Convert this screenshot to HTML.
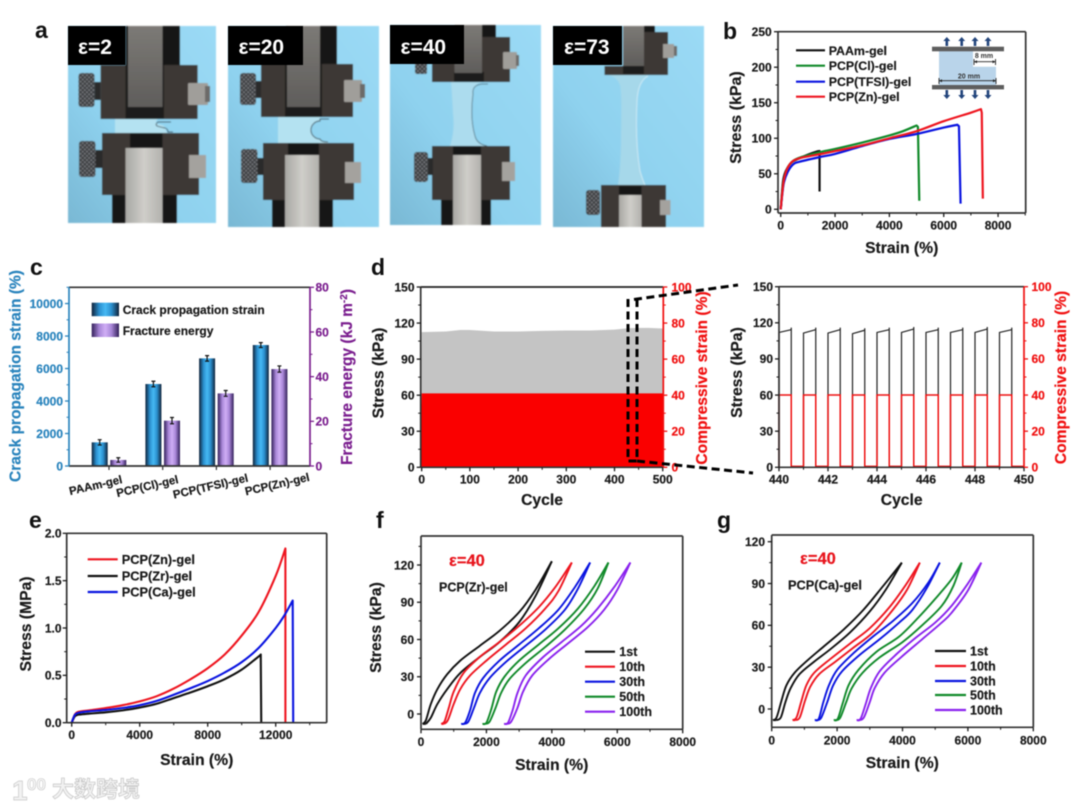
<!DOCTYPE html>
<html lang="en">
<head>
<meta charset="utf-8">
<title>Gel mechanical properties figure</title>
<style>
html,body{margin:0;padding:0;background:#fff;}
#figure{display:block;width:1080px;height:809px;filter:blur(0.5px);font-family:"Liberation Sans","Noto Sans CJK SC",sans-serif;}
text{font-family:"Liberation Sans","Noto Sans CJK SC",sans-serif;font-weight:bold;}
</style>
</head>
<body>
<svg id="figure" xmlns="http://www.w3.org/2000/svg" width="1080" height="809" viewBox="0 0 1080 809">
<defs>
  <linearGradient id="skyA" x1="1" y1="0" x2="0" y2="1"><stop offset="0" stop-color="#9bdaf5"/><stop offset="0.6" stop-color="#8fd2ef"/><stop offset="1" stop-color="#79b8d4"/></linearGradient>
  <linearGradient id="metalDark" x1="0" y1="0" x2="0" y2="1"><stop offset="0" stop-color="#7c7a76"/><stop offset="1" stop-color="#5f5d5b"/></linearGradient>
  <linearGradient id="metalLight" x1="0" y1="0" x2="1" y2="0"><stop offset="0" stop-color="#a8a7a3"/><stop offset="0.5" stop-color="#cfcec9"/><stop offset="1" stop-color="#b2b1ad"/></linearGradient>
  <linearGradient id="blueBar" x1="0" y1="0" x2="1" y2="0"><stop offset="0" stop-color="#10233a"/><stop offset="0.28" stop-color="#2b90cf"/><stop offset="0.5" stop-color="#46b9f4"/><stop offset="0.72" stop-color="#2b90cf"/><stop offset="1" stop-color="#10233a"/></linearGradient>
  <linearGradient id="purpleBar" x1="0" y1="0" x2="1" y2="0"><stop offset="0" stop-color="#33205a"/><stop offset="0.28" stop-color="#a987d8"/><stop offset="0.5" stop-color="#cfaef5"/><stop offset="0.72" stop-color="#a987d8"/><stop offset="1" stop-color="#33205a"/></linearGradient>
  <pattern id="knurl" width="3" height="3" patternUnits="userSpaceOnUse" patternTransform="rotate(45)"><rect width="3" height="3" fill="#3b3c3f"/><rect width="1.4" height="1.4" fill="#93959a"/></pattern>
  <filter id="soft"><feGaussianBlur stdDeviation="0.55"/></filter>
</defs>
<rect width="1080" height="809" fill="#ffffff"/>

<g id="panel-a">
  <g filter="url(#soft)">
    <rect x="68" y="26" width="148" height="197" fill="url(#skyA)"/>
    <rect x="125.5" y="26" width="54.5" height="40" fill="#141313"/>
    <rect x="100.6" y="65" width="97" height="54" fill="#3d3734"/>
    <rect x="125.5" y="65" width="38.5" height="54" fill="#1c1a1a"/>
    <rect x="128" y="26" width="34.5" height="81" fill="url(#metalDark)"/>
    <rect x="94.6" y="82" width="6" height="18" fill="#2a2a2a"/>
    <rect x="78.5" y="73" width="16" height="34" rx="3" fill="url(#knurl)"/>
    <rect x="188" y="83" width="20" height="22" rx="1" fill="#a09e9a"/>
    <rect x="205" y="86" width="5" height="16" fill="#6c6a68"/>
    <path d="M115 119H158q-4 3 0 5q6 1 7 3l2 6H115Z" fill="#b4e2f1"/>
    <path d="M171 122H158q-3 2-1 4q3 1 8 2q3 1 3 4h5" fill="none" stroke="#3a4a52" stroke-width="0.9"/>
    <rect x="102" y="133" width="97" height="62" fill="#3d3734"/>
    <rect x="112" y="195" width="65" height="28" fill="#131212"/>
    <rect x="125.5" y="148" width="37" height="75" fill="url(#metalLight)"/>
    <rect x="130" y="133" width="32.5" height="15" fill="#191717"/>
    <rect x="95.5" y="150" width="7" height="18" fill="#2a2a2a"/>
    <rect x="79" y="141" width="16.5" height="36" rx="3" fill="url(#knurl)"/>
    <rect x="189" y="155" width="17" height="23" fill="#a4a29e"/>
  </g>
  <g filter="url(#soft)">
    <rect x="228" y="26" width="151" height="201" fill="url(#skyA)"/>
    <rect x="286" y="26" width="51" height="39" fill="#141313"/>
    <rect x="261" y="64" width="92" height="53" fill="#3d3734"/>
    <rect x="285" y="64" width="37" height="53" fill="#1c1a1a"/>
    <rect x="287" y="26" width="33" height="81" fill="url(#metalDark)"/>
    <rect x="256" y="81" width="5" height="17" fill="#2a2a2a"/>
    <rect x="240" y="73" width="16" height="32" rx="3" fill="url(#knurl)"/>
    <rect x="344" y="80" width="18" height="22" rx="1" fill="#a09e9a"/>
    <rect x="360" y="84" width="5" height="14" fill="#6c6a68"/>
    <path d="M278 117H320V121a9 9 0 0 0 0 18q1 3 8 3v1H278Z" fill="#b4e2f1"/>
    <path d="M329 119H320v2a9 9 0 0 0 0 18q1 3 8 3" fill="none" stroke="#3a4a52" stroke-width="0.9"/>
    <rect x="263" y="143" width="91" height="57" fill="#3d3734"/>
    <rect x="272" y="200" width="61" height="27" fill="#131212"/>
    <rect x="285" y="155" width="34" height="72" fill="url(#metalLight)"/>
    <rect x="288" y="143" width="31" height="12" fill="#191717"/>
    <rect x="257.5" y="158" width="6" height="17" fill="#2a2a2a"/>
    <rect x="241" y="149" width="16.5" height="34" rx="3" fill="url(#knurl)"/>
    <rect x="345" y="162" width="16" height="21" fill="#a4a29e"/>
  </g>
  <g filter="url(#soft)">
    <rect x="390" y="25" width="151" height="200" fill="url(#skyA)"/>
    <rect x="464" y="25" width="32" height="14" fill="#141313"/>
    <rect x="432" y="37" width="78" height="45" fill="#3d3734"/>
    <rect x="454" y="72" width="30" height="10" fill="#1c1a1a"/>
    <rect x="454.5" y="25" width="27.5" height="48" fill="url(#metalDark)"/>
    <rect x="415" y="62" width="12" height="12" rx="2" fill="url(#knurl)"/>
    <rect x="503" y="52" width="14" height="17" rx="1" fill="#a09e9a"/>
    <rect x="516" y="55" width="3" height="11" fill="#6c6a68"/>
    <path d="M451 82H482q-10 3-9 12q-3 25 2 42q2 8 12 10H450q5-15 3-32q-1-20-2-32Z" fill="#acdcee"/>
    <path d="M488 84h-6q-10 1-9 10q-3 25 2 42q2 8 12 10" fill="none" stroke="#47606c" stroke-width="0.7"/>
    <rect x="432" y="146" width="78" height="54" fill="#3d3734"/>
    <rect x="441" y="200" width="50" height="25" fill="#131212"/>
    <rect x="453" y="155" width="28" height="70" fill="url(#metalLight)"/>
    <rect x="453" y="146" width="28" height="9" fill="#191717"/>
    <rect x="428" y="158" width="5" height="17" fill="#2a2a2a"/>
    <rect x="414" y="152" width="14" height="30" rx="3" fill="url(#knurl)"/>
    <rect x="502" y="162" width="13" height="19" fill="#a4a29e"/>
  </g>
  <g filter="url(#soft)">
    <rect x="553" y="26" width="151" height="201" fill="url(#skyA)"/>
    <rect x="644" y="26" width="11" height="12" fill="#141313"/>
    <rect x="604.5" y="66" width="63.5" height="9" fill="#3d3734"/>
    <rect x="644" y="32" width="24" height="43" fill="#3d3734"/>
    <rect x="623" y="26" width="21" height="40" fill="url(#metalDark)"/>
    <rect x="623" y="66" width="21" height="8" fill="#1c1a1a"/>
    <rect x="663" y="44" width="11" height="14" fill="#a09e9a"/>
    <rect x="674" y="46" width="3" height="10" fill="#6c6a68"/>
    <path d="M608 75H648q-10 5-11 25q-2 40 3 70q3 10 5 15H618q3-20 3-50q1-40-1-50q-3-8-12-10Z" fill="#a6d8ea"/>
    <path d="M648 76q-10 5-11 25q-2 40 3 70q3 10 5 14" fill="none" stroke="#dff2f8" stroke-width="0.7"/>
    <rect x="601" y="185" width="65" height="42" fill="#3d3734"/>
    <rect x="619" y="195" width="22.5" height="32" fill="url(#metalLight)"/>
    <rect x="619" y="186" width="22.5" height="9" fill="#191717"/>
    <rect x="586" y="190" width="14" height="25" rx="3" fill="url(#knurl)"/>
    <rect x="660" y="200" width="10.5" height="15" fill="#a4a29e"/>
  </g>
  <g>
    <rect x="68" y="26" width="57.5" height="39" fill="#000"/>
    <text x="78" y="54" font-size="21" fill="#fff">ε=2</text>
    <rect x="228" y="26" width="75" height="39" fill="#000"/>
    <text x="238.5" y="54" font-size="21" fill="#fff">ε=20</text>
    <rect x="390" y="25" width="74" height="39" fill="#000"/>
    <text x="400.5" y="54" font-size="21" fill="#fff">ε=40</text>
    <rect x="553" y="26" width="69" height="39" fill="#000"/>
    <text x="564" y="54" font-size="21" fill="#fff">ε=73</text>
  </g>
</g>

<g fill="#111">
  <text x="35" y="38" font-size="23">a</text>
  <text x="723" y="39" font-size="23">b</text>
  <text x="30" y="275" font-size="23">c</text>
  <text x="371" y="275" font-size="23">d</text>
  <text x="29" y="528" font-size="23">e</text>
  <text x="376" y="528" font-size="23">f</text>
  <text x="717" y="528" font-size="23">g</text>
</g>

<g id="charts"></g>

<g>
  <path d="M939 51H973V66.7H996V85H939Z" fill="#b9d4ea"/>
  <rect x="932" y="46.7" width="72" height="4.6" fill="#5e5e5e"/>
  <rect x="932" y="85" width="72" height="4.4" fill="#5e5e5e"/>
  <g fill="#23457c">
    <path d="M945.5 46v-5h-2.2l3.5-4 3.5 4h-2.2v5z"/><path d="M960.4 46v-5h-2.2l3.5-4 3.5 4h-2.2v5z"/><path d="M973.7 46v-5h-2.2l3.5-4 3.5 4h-2.2v5z"/><path d="M986.7 46v-5h-2.2l3.5-4 3.5 4h-2.2v5z"/>
  </g>
  <g fill="#23457c">
    <path d="M945.5 90v5h-2.2l3.5 4 3.5-4h-2.2v-5z"/><path d="M960.4 90v5h-2.2l3.5 4 3.5-4h-2.2v-5z"/><path d="M973.7 90v5h-2.2l3.5 4 3.5-4h-2.2v-5z"/><path d="M986.7 90v5h-2.2l3.5 4 3.5-4h-2.2v-5z"/>
  </g>
  <g stroke="#222" stroke-width="0.9" fill="#222">
    <path d="M974 59v6M995.5 59v6M974 61.7H995.5" fill="none"/>
    <path d="M974 61.7l3-1.5v3zM995.5 61.7l-3-1.5v3z" stroke="none"/>
  </g>
  <text x="984" y="58" font-size="7" text-anchor="middle" fill="#333">8 mm</text>
  <g stroke="#222" stroke-width="0.9" fill="#222">
    <path d="M939 78v6M996 78v6M939 80.7H996" fill="none"/>
    <path d="M939 80.7l3-1.5v3zM996 80.7l-3-1.5v3z" stroke="none"/>
  </g>
  <text x="969" y="78.5" font-size="7" text-anchor="middle" fill="#333">20 mm</text>
</g>

<g fill="none" stroke="#000" stroke-width="3" stroke-dasharray="8 4.5">
  <path d="M628 299V461H637"/>
  <path d="M637 299V461"/>
  <path d="M634 299.5L738 285"/>
  <path d="M637 461L753 473"/>
</g>

<g>
  <text x="12" y="800" font-size="28" fill="#f2f2f2" stroke="#c9c9c9" stroke-width="0.7">1</text>
  <text x="27" y="790" font-size="17" fill="#f7f7f7" stroke="#c9c9c9" stroke-width="0.6">00</text>
  <text x="52" y="797" font-size="22" fill="#f2f2f2" stroke="#c6c6c6" stroke-width="0.7">大数跨境</text>
</g>
</svg>

<script>
// ---------- Panel b data ----------
const bStrainTicks = [0, 2000, 4000, 6000, 8000];
const bStressTicks = [0, 50, 100, 150, 200, 250];
const bPAAm = [[0,0],[50,25],[100,43],[200,55],[400,66],[700,72],[1000,77],[1300,81],[1430,82]];
const bPAAmDrop = [[1430,25]];
const bCl = [[0,0],[60,25],[120,42],[250,58],[450,68],[800,74],[1500,81],[2000,85],[3000,94],[4000,104],[4500,110],[5000,118]];
const bClDrop = [[5050,116],[5100,12]];
const bTFSI = [[0,0],[60,22],[120,38],[250,52],[450,63],[700,67],[1500,74],[2000,78],[3000,89],[4000,99],[5000,106],[6000,115],[6500,119]];
const bTFSIDrop = [[6560,117],[6620,8]];
const bZn = [[0,0],[60,24],[120,42],[250,58],[450,68],[800,73],[1500,78],[2000,82],[3000,90],[4000,100],[5000,110],[6000,124],[7000,136],[7370,141]];
const bZnDrop = [[7400,136],[7440,15]];

// ---------- Panel c data ----------
const cCategories = ['PAAm-gel', 'PCP(Cl)-gel', 'PCP(TFSI)-gel', 'PCP(Zn)-gel'];
const cCrackStrain = [1456, 5046, 6625, 7446];
const cCrackError = [165, 170, 170, 150];
const cFractureEnergy = [2.7, 20.3, 32.5, 43.4];
const cFractureError = [1.0, 1.4, 1.3, 1.4];
const cStrainTicks = [0, 2000, 4000, 6000, 8000, 10000];
const cEnergyTicks = [0, 20, 40, 60, 80];

// ---------- Panel d data ----------
const dCycles = [0, 50, 80, 100, 150, 200, 250, 300, 350, 400, 430, 470, 500];
const dStressPeak = [112.5, 113, 114.2, 114.2, 113, 113, 113.5, 113.8, 113.8, 114.5, 115.8, 116, 115.5];
const dStrainPlateau = [41, 41, 41, 41, 41, 41, 41, 41, 41, 41, 41, 41, 41];
const dCycleTicks = [0, 100, 200, 300, 400, 500];
const dStressTicks = [0, 30, 60, 90, 120, 150];
const dStrainTicks = [0, 20, 40, 60, 80, 100];

// ---------- Panel d zoom data ----------
const zCycleStarts = [440, 441, 442, 443, 444, 445, 446, 447, 448, 449];
const zStressStart = [112, 111.5, 111.5, 111, 112, 112, 112, 112, 112, 112];
const zStressEnd = [116, 116, 116, 115.5, 116, 116.5, 116, 116, 116.5, 116];
const zStrainHigh = [40, 40, 40, 40, 40, 40, 40, 40, 40, 40];
const zCycleTicks = [440, 442, 444, 446, 448, 450];

// ---------- Panel e data ----------
const eStrainTicks = [0, 4000, 8000, 12000];
const eStressTicks = [0, 0.5, 1, 1.5, 2];
const eZn = [[0,0],[100,.05],[200,.09],[400,.115],[1000,.13],[2000,.155],[3000,.185],[4000,.225],[5000,.28],[6000,.36],[7000,.46],[8000,.575],[9000,.72],[10000,.92],[11000,1.17],[12000,1.55],[12570,1.84]];
const eZnDrop = [[12570,0]];
const eZr = [[0,0],[100,.04],[200,.07],[400,.085],[1000,.095],[2000,.11],[3000,.13],[4000,.16],[5000,.2],[6000,.26],[7000,.32],[8000,.385],[9000,.46],[10000,.56],[11000,.70],[11120,.72]];
const eZrDrop = [[11150,0]];
const eCa = [[0,0],[100,.05],[200,.085],[400,.105],[1000,.12],[2000,.135],[3000,.155],[4000,.185],[5000,.23],[6000,.295],[7000,.365],[8000,.44],[9000,.53],[10000,.64],[11000,.79],[12000,1.0],[12500,1.13],[13000,1.29]];
const eCaDrop = [[13030,0]];

// ---------- Panels f and g shared ticks ----------
const loopStrainTicks = [0, 2000, 4000, 6000, 8000];
const loopStressTicks = [0, 30, 60, 90, 120];
const loopLegendLabels = ['1st', '10th', '30th', '50th', '100th'];

// ---------- Panel f data ----------
const f1stUpper = [[50,-8],[150,-5],[300,8],[500,20],[800,32],[1200,43],[1800,55],[2400,67],[3000,82],[3500,100],[4000,123]];
const f1stLower = [[150,-8],[300,-3],[500,8],[800,20],[1200,33],[1800,46],[2400,58],[3000,74],[3500,95],[4000,123]];
const f10thUpper = [[620,-8],[720,-6],[850,5],[1000,18],[1300,33],[1800,46],[2400,58],[3000,71],[3600,86],[4100,102],[4610,122]];
const f10thLower = [[700,-8],[820,-5],[1000,8],[1200,20],[1500,31],[2000,43],[2600,56],[3200,69],[3800,85],[4200,99],[4610,122]];
const f30thUpper = [[1230,-8],[1350,-7],[1500,3],[1650,17],[1900,29],[2400,43],[3000,56],[3600,69],[4200,84],[4700,102],[5170,122]];
const f30thLower = [[1320,-8],[1450,-6],[1620,5],[1800,17],[2100,29],[2600,42],[3200,55],[3800,68],[4400,84],[4800,101],[5170,122]];
const f50thUpper = [[1880,-8],[2000,-7],[2150,4],[2300,18],[2550,30],[3000,43],[3600,56],[4200,69],[4800,85],[5300,103],[5730,122]];
const f50thLower = [[1970,-8],[2100,-6],[2280,5],[2450,17],[2700,28],[3200,41],[3800,54],[4400,68],[5000,85],[5400,101],[5730,122]];
const f100thUpper = [[2540,-8],[2660,-7],[2800,3],[2950,17],[3200,31],[3700,45],[4300,58],[4900,71],[5400,85],[5900,102],[6400,122]];
const f100thLower = [[2640,-8],[2760,-6],[2950,5],[3120,18],[3400,31],[3900,44],[4500,57],[5100,70],[5600,84],[6000,100],[6400,122]];

// ---------- Panel g data ----------
const g1stUpper = [[40,-8],[150,-6],[300,6],[450,17],[700,26],[1100,35],[1600,45],[2200,57],[2800,71],[3400,88],[3980,105]];
const g1stLower = [[140,-8],[280,-6],[420,5],[580,15],[850,25],[1300,34],[1800,43],[2400,55],[3000,70],[3500,86],[3980,105]];
const g10thUpper = [[640,-8],[760,-6],[900,5],[1060,17],[1300,26],[1800,36],[2400,47],[3000,58],[3600,73],[4100,89],[4530,105]];
const g10thLower = [[730,-8],[860,-6],[1020,6],[1180,16],[1450,25],[1950,34],[2500,44],[3100,55],[3700,71],[4150,86],[4530,105]];
const g30thUpper = [[1320,-8],[1440,-7],[1580,5],[1750,17],[2000,28],[2500,40],[3100,52],[3700,63],[4300,76],[4800,91],[5140,105]];
const g30thLower = [[1400,-8],[1520,-6],[1700,5],[1880,17],[2150,27],[2700,39],[3300,50],[3900,62],[4300,71],[4750,87],[5140,105]];
const g50thUpper = [[1900,-8],[2020,-7],[2170,4],[2350,17],[2650,28],[3200,41],[3900,52],[4500,66],[5000,79],[5500,93],[5810,105]];
const g50thLower = [[1980,-8],[2100,-6],[2280,5],[2450,15],[2780,26],[3300,37],[4000,48],[4600,60],[5200,74],[5550,88],[5810,105]];
const g100thUpper = [[2600,-8],[2720,-7],[2880,4],[3030,15],[3300,27],[3800,39],[4400,51],[5000,62],[5500,74],[6000,90],[6410,105]];
const g100thLower = [[2680,-8],[2820,-6],[3000,5],[3150,15],[3450,26],[3950,37],[4600,50],[5200,62],[5500,69],[6000,85],[6410,105]];

// ---------- Helpers ----------
const NS = 'http://www.w3.org/2000/svg';
const root = document.getElementById('charts');
const AXIS = '#333333';
const RED = '#f01010';
const BLUE = '#2a84bd';
const PURPLE = '#7b1f8f';

function mk(parent, tag, name, attrs) {
  const el = document.createElementNS(NS, tag);
  
  
  for (const k in attrs) el.setAttribute(k, attrs[k]);
  parent.appendChild(el);
  return el;
}
function txt(parent, name, str, x, y, size, opts) {
  const o = opts || {};
  const color = o.fill || '#1a1a1a';
  const a = {x: x, y: y, 'font-size': size, fill: color, stroke: color, 'stroke-width': 0.2, 'text-anchor': o.anchor || 'start'};
  if (o.rotate !== undefined) a.transform = 'rotate(' + o.rotate + ' ' + x + ' ' + y + ')';
  const t = mk(parent, 'text', name, a);
  t.textContent = str;
  return t;
}
function linear(d0, d1, r0, r1) {
  return function (v) { return r0 + (v - d0) / (d1 - d0) * (r1 - r0); };
}
function smoothPath(points, sx, sy) {
  const p = points.map(function (q) { return [sx(q[0]), sy(q[1])]; });
  let d = 'M' + p[0][0].toFixed(2) + ' ' + p[0][1].toFixed(2);
  for (let i = 0; i < p.length - 1; i++) {
    const a = p[Math.max(i - 1, 0)], b = p[i], c = p[i + 1], e = p[Math.min(i + 2, p.length - 1)];
    const c1x = b[0] + (c[0] - a[0]) / 6, c1y = b[1] + (c[1] - a[1]) / 6;
    const c2x = c[0] - (e[0] - b[0]) / 6, c2y = c[1] - (e[1] - b[1]) / 6;
    d += 'C' + c1x.toFixed(2) + ' ' + c1y.toFixed(2) + ' ' + c2x.toFixed(2) + ' ' + c2y.toFixed(2) + ' ' + c[0].toFixed(2) + ' ' + c[1].toFixed(2);
  }
  return d;
}
function dropPath(points, sx, sy) {
  return points.map(function (q) { return 'L' + sx(q[0]).toFixed(2) + ' ' + sy(q[1]).toFixed(2); }).join('');
}
function frameLine(g, name, x1, y1, x2, y2, color) {
  mk(g, 'line', name, {x1: x1, y1: y1, x2: x2, y2: y2, stroke: color, 'stroke-width': 1.7});
}
function xTicks(g, prefix, sx, yAxis, majors, labels, minors, labelY, color) {
  majors.forEach(function (v, i) {
    mk(g, 'line', prefix + '-x-tick', {x1: sx(v), x2: sx(v), y1: yAxis, y2: yAxis + 4, stroke: color, 'stroke-width': 1.3});
    txt(g, prefix + '-x-tick-label', labels[i], sx(v), labelY, 12, {anchor: 'middle', fill: color});
  });
  minors.forEach(function (v) {
    mk(g, 'line', prefix + '-x-minor-tick', {x1: sx(v), x2: sx(v), y1: yAxis, y2: yAxis + 2.5, stroke: color, 'stroke-width': 1});
  });
}
function yTicks(g, prefix, sy, xAxis, majors, labels, minors, side, labelX, color) {
  majors.forEach(function (v, i) {
    mk(g, 'line', prefix + '-y-tick', {x1: xAxis, x2: xAxis + side * 4, y1: sy(v), y2: sy(v), stroke: color, 'stroke-width': 1.3});
    txt(g, prefix + '-y-tick-label', labels[i], labelX, sy(v) + 4.3, 12, {anchor: side < 0 ? 'end' : 'start', fill: color});
  });
  minors.forEach(function (v) {
    mk(g, 'line', prefix + '-y-minor-tick', {x1: xAxis, x2: xAxis + side * 2.5, y1: sy(v), y2: sy(v), stroke: color, 'stroke-width': 1});
  });
}
function midpoints(vals) {
  const out = [];
  for (let i = 0; i < vals.length - 1; i++) out.push((vals[i] + vals[i + 1]) / 2);
  return out;
}
function legendRow(g, prefix, label, x1, x2, y, textX, size, color) {
  mk(g, 'line', prefix + '-legend-line', {x1: x1, x2: x2, y1: y, y2: y, stroke: color, 'stroke-width': 2.2});
  txt(g, prefix + '-legend-label', label, textX, y + size * 0.36, size);
}
const asText = function (v) { return String(v); };

// ---------- Panel b ----------
(function () {
  const g = mk(root, 'g', 'stress-strain-chart-b', {});
  const sx = linear(-100, 9017, 778, 1025.7);
  const sy = linear(0, 250, 209.3, 31.7);
  const series = [
    ['paam-curve', bPAAm, bPAAmDrop, '#111111'],
    ['pcp-cl-curve', bCl, bClDrop, '#118a2a'],
    ['pcp-tfsi-curve', bTFSI, bTFSIDrop, '#0a14e0'],
    ['pcp-zn-curve', bZn, bZnDrop, '#ee1620']
  ];
  series.forEach(function (s) {
    mk(g, 'path', s[0], {d: smoothPath(s[1], sx, sy) + dropPath(s[2], sx, sy), fill: 'none', stroke: s[3], 'stroke-width': 2.2, 'stroke-linejoin': 'round'});
  });
  frameLine(g, 'frame-left', 778, 31.7, 778, 213, AXIS);
  frameLine(g, 'frame-bottom', 778, 213, 1025.7, 213, AXIS);
  frameLine(g, 'frame-top', 778, 31.7, 1025.7, 31.7, AXIS);
  frameLine(g, 'frame-right', 1025.7, 31.7, 1025.7, 213, AXIS);
  xTicks(g, 'b', sx, 213, bStrainTicks, bStrainTicks.map(asText), [1000, 3000, 5000, 7000, 9000], 229.5, '#1a1a1a');
  yTicks(g, 'b', sy, 778, bStressTicks, bStressTicks.map(asText), midpoints(bStressTicks), -1, 771.7, '#1a1a1a');
  txt(g, 'x-axis-title', 'Strain (%)', 901.7, 253, 15.7, {anchor: 'middle'});
  txt(g, 'y-axis-title', 'Stress (kPa)', 741, 117.5, 16, {anchor: 'middle', rotate: -90});
  const names = ['PAAm-gel', 'PCP(Cl)-gel', 'PCP(TFSI)-gel', 'PCP(Zn)-gel'];
  const rows = [50.3, 65.7, 81.7, 96.7];
  names.forEach(function (n, i) {
    legendRow(g, 'b', n, 796, 825, rows[i], 828.7, 12.4, series[i][3]);
  });
})();

// ---------- Panel c ----------
(function () {
  const g = mk(root, 'g', 'bar-chart-c', {});
  const L = 69, R = 310, T = 287.3, B = 466;
  const band = 53.7;
  const sxc = function (i) { return 109 + i * band; };
  const syL = linear(0, 11000, B, T);
  const syR = linear(0, 80, B, T);
  const barW = 16;
  function bar(name, cx, base, top, fill) {
    mk(g, 'rect', name, {x: cx - barW / 2, y: top, width: barW, height: base - top, fill: fill});
  }
  function err(name, cx, hi, lo) {
    mk(g, 'path', name, {d: 'M' + cx + ' ' + hi + 'V' + lo + 'M' + (cx - 2) + ' ' + hi + 'H' + (cx + 2) + 'M' + (cx - 2) + ' ' + lo + 'H' + (cx + 2), stroke: '#111', 'stroke-width': 1.2, fill: 'none'});
  }
  cCategories.forEach(function (c, i) {
    const bx = sxc(i) - 9.3, px = sxc(i) + 9.3;
    bar('crack-strain-bar', bx, B, syL(cCrackStrain[i]), 'url(#blueBar)');
    err('crack-strain-error', bx, syL(cCrackStrain[i] + cCrackError[i]), syL(cCrackStrain[i] - cCrackError[i]));
    bar('fracture-energy-bar', px, B, syR(cFractureEnergy[i]), 'url(#purpleBar)');
    err('fracture-energy-error', px, syR(cFractureEnergy[i] + cFractureError[i]), syR(cFractureEnergy[i] - cFractureError[i]));
    mk(g, 'line', 'c-x-tick', {x1: sxc(i), x2: sxc(i), y1: B, y2: B + 4, stroke: AXIS, 'stroke-width': 1.2});
  });
  const labelShift = [-12.5, -14.5, -5, 8];
  const labelDrop = [23, 24, 24, 22];
  cCategories.forEach(function (c, i) {
    txt(g, 'category-label', c, sxc(i) + labelShift[i], B + labelDrop[i], 11.5, {anchor: 'middle', rotate: -13});
  });
  frameLine(g, 'frame-top', L, T, R, T, AXIS);
  frameLine(g, 'frame-bottom', L, B, R, B, AXIS);
  frameLine(g, 'left-axis', L, T, L, B, BLUE);
  frameLine(g, 'right-axis', R, T, R, B, PURPLE);
  yTicks(g, 'c-left', syL, L, cStrainTicks, cStrainTicks.map(asText), [1000, 3000, 5000, 7000, 9000, 11000], -1, 63, BLUE);
  yTicks(g, 'c-right', syR, R, cEnergyTicks, cEnergyTicks.map(asText), midpoints(cEnergyTicks), 1, 315.5, PURPLE);
  txt(g, 'left-axis-title', 'Crack propagation strain (%)', 20.5, 376, 15.5, {anchor: 'middle', fill: BLUE, rotate: -90});
  const rt = txt(g, 'right-axis-title', 'Fracture energy (kJ m', 352, 377, 15.5, {anchor: 'middle', fill: PURPLE, rotate: -90});
  const sup = mk(rt, 'tspan', 'right-axis-title-exponent', {dy: -5, 'font-size': 10});
  sup.textContent = '-2';
  const close = mk(rt, 'tspan', 'right-axis-title-close', {dy: 5});
  close.textContent = ')';
  mk(g, 'rect', 'legend-swatch-crack', {x: 91.7, y: 302.7, width: 27.3, height: 13.5, fill: 'url(#blueBar)'});
  txt(g, 'legend-label-crack', 'Crack propagation strain', 122.7, 314.2, 12);
  mk(g, 'rect', 'legend-swatch-fracture', {x: 91.7, y: 323.5, width: 27.3, height: 13.5, fill: 'url(#purpleBar)'});
  txt(g, 'legend-label-fracture', 'Fracture energy', 122.7, 335, 12);
})();

// ---------- Panel d overview ----------
(function () {
  const g = mk(root, 'g', 'fatigue-chart-d', {});
  const L = 420.7, R = 663.3, T = 287, B = 467.3;
  const sx = linear(-2, 501.2, L, R);
  const sy = linear(0, 150, B, T);
  const sr = linear(0, 100, B, T);
  let gray = 'M' + L + ' ' + B;
  dCycles.forEach(function (c, i) { gray += 'L' + Math.min(sx(c), R) + ' ' + sy(dStressPeak[i]).toFixed(2); });
  gray += 'L' + R + ' ' + B + 'Z';
  mk(g, 'path', 'stress-envelope-area', {d: gray, fill: '#c4c4c4'});
  let red = 'M' + L + ' ' + B;
  dCycles.forEach(function (c, i) { red += 'L' + Math.min(sx(c), R) + ' ' + sr(dStrainPlateau[i]).toFixed(2); });
  red += 'L' + R + ' ' + B + 'Z';
  mk(g, 'path', 'strain-area', {d: red, fill: '#fa0000'});
  frameLine(g, 'frame-top', L, T, R, T, '#222');
  frameLine(g, 'frame-left', L, T, L, B, AXIS);
  frameLine(g, 'frame-bottom', L, B, R, B, AXIS);
  frameLine(g, 'right-axis', R, T, R, B, RED);
  xTicks(g, 'd', sx, B, dCycleTicks, dCycleTicks.map(asText), midpoints(dCycleTicks), 483.5, '#1a1a1a');
  yTicks(g, 'd-left', sy, L, dStressTicks, dStressTicks.map(asText), midpoints(dStressTicks), -1, 414.5, '#1a1a1a');
  yTicks(g, 'd-right', sr, R, dStrainTicks, dStrainTicks.map(asText), midpoints(dStrainTicks), 1, 671.5, RED);
  txt(g, 'x-axis-title', 'Cycle', 542, 505, 15.7, {anchor: 'middle'});
  txt(g, 'y-axis-title', 'Stress (kPa)', 383.5, 373, 15.7, {anchor: 'middle', rotate: -90});
  txt(g, 'right-axis-title', 'Compressive strain (%)', 707, 378, 15.6, {anchor: 'middle', fill: RED, rotate: -90});
})();

// ---------- Panel d zoom ----------
(function () {
  const g = mk(root, 'g', 'fatigue-zoom-chart-d', {});
  const L = 779, R = 1024, T = 286.7, B = 467.3;
  const sx = linear(440, 450, L, R);
  const sy = linear(0, 150, B, T);
  const sr = linear(0, 100, B, T);
  let black = '';
  let red = '';
  zCycleStarts.forEach(function (c, i) {
    const up = sx(c), down = sx(c + 0.5), next = sx(c + 1);
    black += 'M' + up + ' ' + B + 'V' + sy(zStressStart[i]) + 'L' + (down - 0.6) + ' ' + sy(zStressEnd[i] - 1.8) + 'H' + down + 'V' + sy(zStressEnd[i]) + 'V' + B;
    red += (i === 0 ? 'M' : 'L') + up + ' ' + B + 'V' + sr(zStrainHigh[i]) + 'H' + down + 'V' + sr(0.5) + 'H' + next;
  });
  mk(g, 'path', 'stress-cycles-line', {d: black, fill: 'none', stroke: '#222', 'stroke-width': 1.2});
  mk(g, 'path', 'strain-cycles-line', {d: red, fill: 'none', stroke: '#ee1111', 'stroke-width': 1.5});
  frameLine(g, 'frame-top', L, T, R, T, AXIS);
  frameLine(g, 'frame-left', L, T, L, B, AXIS);
  frameLine(g, 'frame-bottom', L, B, R, B, AXIS);
  frameLine(g, 'right-axis', R, T, R, B, RED);
  xTicks(g, 'd-zoom', sx, B, zCycleTicks, zCycleTicks.map(asText), midpoints(zCycleTicks), 483.5, '#1a1a1a');
  yTicks(g, 'd-zoom-left', sy, L, dStressTicks, dStressTicks.map(asText), midpoints(dStressTicks), -1, 773, '#1a1a1a');
  yTicks(g, 'd-zoom-right', sr, R, dStrainTicks, dStrainTicks.map(asText), midpoints(dStrainTicks), 1, 1031.5, RED);
  txt(g, 'x-axis-title', 'Cycle', 901.7, 505, 15.7, {anchor: 'middle'});
  txt(g, 'y-axis-title', 'Stress (kPa)', 742, 372.5, 15.7, {anchor: 'middle', rotate: -90});
  txt(g, 'right-axis-title', 'Compressive strain (%)', 1066, 377.5, 15.6, {anchor: 'middle', fill: RED, rotate: -90});
})();

// ---------- Panel e ----------
(function () {
  const g = mk(root, 'g', 'stress-strain-chart-e', {});
  const L = 66.7, R = 326.7, T = 533.3, B = 722.7;
  const sx = linear(0, 12000, 71.7, 275.7);
  const sy = linear(0, 2, B, T);
  const series = [
    ['pcp-zr-curve', eZr, eZrDrop, '#111111'],
    ['pcp-zn-curve', eZn, eZnDrop, '#ee1620'],
    ['pcp-ca-curve', eCa, eCaDrop, '#0a14e0']
  ];
  series.forEach(function (s) {
    mk(g, 'path', s[0], {d: smoothPath(s[1], sx, sy) + dropPath(s[2], sx, sy), fill: 'none', stroke: s[3], 'stroke-width': 2.1, 'stroke-linejoin': 'round'});
  });
  frameLine(g, 'frame-left', L, T, L, B, AXIS);
  frameLine(g, 'frame-bottom', L, B, R, B, AXIS);
  frameLine(g, 'frame-top', L, T, R, T, AXIS);
  frameLine(g, 'frame-right', R, T, R, B, AXIS);
  xTicks(g, 'e', sx, B, eStrainTicks, eStrainTicks.map(asText), [2000, 6000, 10000, 14000], 739, '#1a1a1a');
  yTicks(g, 'e', sy, L, eStressTicks, eStressTicks.map(function (v) { return v.toFixed(1); }), midpoints(eStressTicks), -1, 61.5, '#1a1a1a');
  txt(g, 'x-axis-title', 'Strain (%)', 196.7, 765, 15.7, {anchor: 'middle'});
  txt(g, 'y-axis-title', 'Stress (MPa)', 31, 624, 15.7, {anchor: 'middle', rotate: -90});
  legendRow(g, 'e-zn', 'PCP(Zn)-gel', 87.7, 117.7, 559.3, 121.7, 12.8, '#ee1620');
  legendRow(g, 'e-zr', 'PCP(Zr)-gel', 87.7, 117.7, 576, 121.7, 12.8, '#111111');
  legendRow(g, 'e-ca', 'PCP(Ca)-gel', 87.7, 117.7, 592, 121.7, 12.8, '#0a14e0');
})();

// ---------- Panels f and g ----------
const loopColors = ['#111111', '#ee1620', '#0a14e0', '#118a2a', '#8a22ee'];
function drawLoops(g, upper, lower, sx, sy) {
  upper.forEach(function (u, i) {
    mk(g, 'path', 'loop-' + loopLegendLabels[i] + '-upper', {d: smoothPath(u, sx, sy), fill: 'none', stroke: loopColors[i], 'stroke-width': 1.9});
    mk(g, 'path', 'loop-' + loopLegendLabels[i] + '-lower', {d: smoothPath(lower[i], sx, sy), fill: 'none', stroke: loopColors[i], 'stroke-width': 1.9});
    const a = u[0], b = lower[i][0];
    mk(g, 'line', 'loop-' + loopLegendLabels[i] + '-base', {x1: sx(a[0]), y1: sy(a[1]), x2: sx(b[0]), y2: sy(b[1]), stroke: loopColors[i], 'stroke-width': 1.9});
  });
}
(function () {
  const g = mk(root, 'g', 'hysteresis-chart-f', {});
  const L = 421, R = 682.7, T = 536, B = 729.3;
  const sx = linear(0, 8000, L, R);
  const sy = linear(0, 120, 714, 565);
  drawLoops(g, [f1stUpper, f10thUpper, f30thUpper, f50thUpper, f100thUpper], [f1stLower, f10thLower, f30thLower, f50thLower, f100thLower], sx, sy);
  frameLine(g, 'frame-left', L, T, L, B, AXIS);
  frameLine(g, 'frame-bottom', L, B, R, B, AXIS);
  frameLine(g, 'frame-top', L, T, R, T, AXIS);
  frameLine(g, 'frame-right', R, T, R, B, AXIS);
  xTicks(g, 'f', sx, B, loopStrainTicks, loopStrainTicks.map(asText), midpoints(loopStrainTicks), 746, '#1a1a1a');
  yTicks(g, 'f', sy, L, loopStressTicks, loopStressTicks.map(asText), [15, 45, 75, 105, 135], -1, 414, '#1a1a1a');
  txt(g, 'x-axis-title', 'Strain (%)', 551.7, 770, 15.7, {anchor: 'middle'});
  txt(g, 'y-axis-title', 'Stress (kPa)', 381, 627.5, 15.7, {anchor: 'middle', rotate: -90});
  txt(g, 'strain-annotation', 'ε=40', 449, 566, 16.5, {fill: '#e8141c'});
  txt(g, 'material-annotation', 'PCP(Zr)-gel', 439, 591.5, 12.5);
  const rows = [651.7, 666.7, 681.7, 696.7, 711.7];
  loopLegendLabels.forEach(function (n, i) {
    legendRow(g, 'f', n, 585, 615, rows[i], 619.3, 12.5, loopColors[i]);
  });
})();
(function () {
  const g = mk(root, 'g', 'hysteresis-chart-g', {});
  const L = 771.7, R = 1033.3, T = 535, B = 727.3;
  const sx = linear(0, 8000, L, R);
  const sy = linear(0, 120, 709, 541.7);
  drawLoops(g, [g1stUpper, g10thUpper, g30thUpper, g50thUpper, g100thUpper], [g1stLower, g10thLower, g30thLower, g50thLower, g100thLower], sx, sy);
  frameLine(g, 'frame-left', L, T, L, B, AXIS);
  frameLine(g, 'frame-bottom', L, B, R, B, AXIS);
  frameLine(g, 'frame-top', L, T, R, T, AXIS);
  frameLine(g, 'frame-right', R, T, R, B, AXIS);
  xTicks(g, 'g', sx, B, loopStrainTicks, loopStrainTicks.map(asText), midpoints(loopStrainTicks), 744.5, '#1a1a1a');
  yTicks(g, 'g', sy, L, loopStressTicks, loopStressTicks.map(asText), midpoints(loopStressTicks), -1, 765, '#1a1a1a');
  txt(g, 'x-axis-title', 'Strain (%)', 902.3, 768, 15.7, {anchor: 'middle'});
  txt(g, 'strain-annotation', 'ε=40', 800, 564, 16.5, {fill: '#e8141c'});
  txt(g, 'material-annotation', 'PCP(Ca)-gel', 788, 589.5, 12.8);
  const rows = [651, 666, 681, 695, 710];
  loopLegendLabels.forEach(function (n, i) {
    legendRow(g, 'g', n, 935, 966, rows[i], 970, 12.5, loopColors[i]);
  });
})();
</script>
</body>
</html>
